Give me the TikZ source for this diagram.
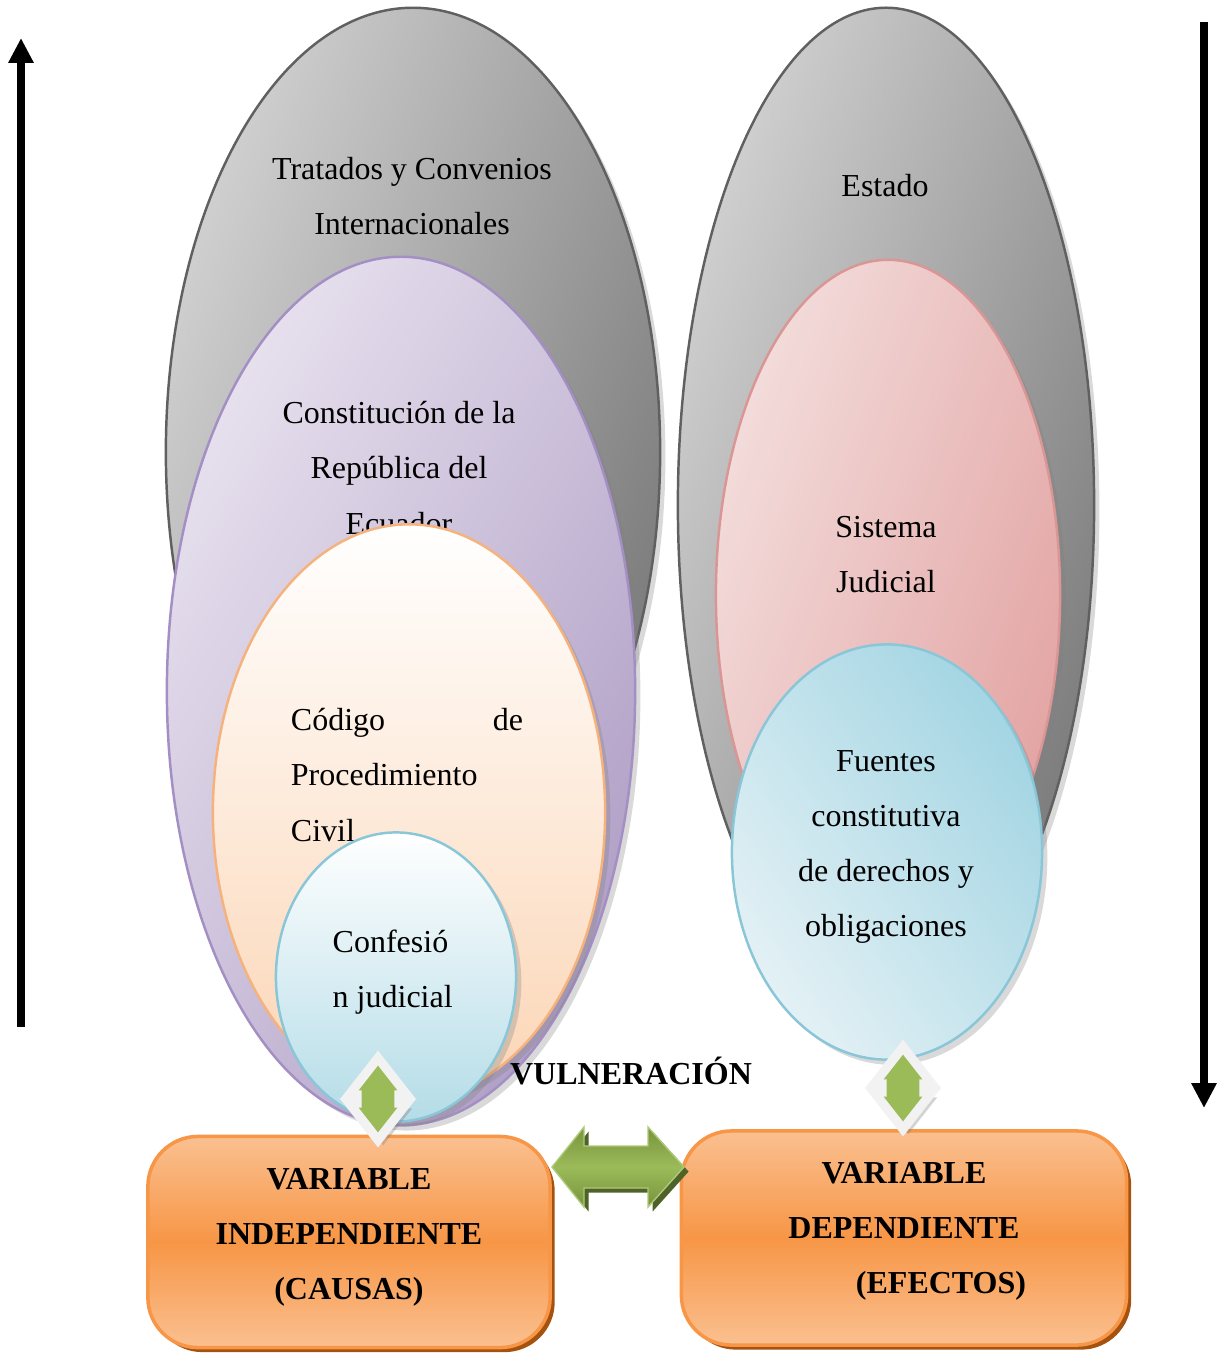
\documentclass[tikz,border=0pt]{standalone}
\usepackage{fontspec}
\setmainfont{Liberation Serif}
\usepackage{xcolor}
\usepackage{tikz}
\usetikzlibrary{shapes.geometric,arrows.meta,shadows}

\definecolor{grisclaro}{HTML}{D2D2D2}
\definecolor{grisoscuro}{HTML}{7A7A7A}
\definecolor{bordegris}{HTML}{606060}
\definecolor{lilaclaro}{HTML}{E7E1EE}
\definecolor{lilaoscuro}{HTML}{B09FC6}
\definecolor{bordelila}{HTML}{A38FC4}
\definecolor{melocoton}{HTML}{FBD5B5}
\definecolor{bordemelocoton}{HTML}{F6B27C}
\definecolor{celeste}{HTML}{B4DCE7}
\definecolor{celesteoscuro}{HTML}{A3D5E3}
\definecolor{celesteclaro}{HTML}{E4F1F5}
\definecolor{bordeceleste}{HTML}{88C6D8}
\definecolor{rosaclaro}{HTML}{F3DEDD}
\definecolor{rosaoscuro}{HTML}{E2A3A2}
\definecolor{borderosa}{HTML}{D99694}
\definecolor{naranja}{HTML}{F79646}
\definecolor{naranjaclaro}{HTML}{FAC090}
\definecolor{naranjaoscuro}{HTML}{A6520F}
\definecolor{verde}{HTML}{9BBB59}
\definecolor{verdeoscuro}{HTML}{77933C}
\definecolor{verdesombra}{HTML}{4F6228}
\definecolor{blancogris}{HTML}{F2F2F2}

\newcommand{\flechavert}[1]{%
\draw[shift={(#1)}, fill=verde, draw=blancogris, line width=2.6pt, miter limit=4,
  drop shadow={shadow xshift=1.5pt, shadow yshift=-1.5pt, opacity=0.35}]
  (0,-41) -- (29,-4) -- (21,-4) -- (21,4) -- (29,4) -- (0,41) -- (-29,4) -- (-21,4) -- (-21,-4) -- (-29,-4) -- cycle;}

\begin{document}
\begin{tikzpicture}[x=0.01cm, y=-0.01cm,
  texto/.style={font=\fontsize{9.1}{15.65}\selectfont, align=center, inner sep=0pt},
  negrita/.style={font=\fontsize{9.1}{15.65}\selectfont\bfseries, align=center, inner sep=0pt},
  elipse/.style={ellipse, inner sep=0pt, line width=0.7pt,
    drop shadow={shadow xshift=1.5pt, shadow yshift=-1.5pt, opacity=0.3}},
  gris/.style={elipse, draw=bordegris, left color=grisclaro, right color=grisoscuro, shading angle=70},
  caja/.style={rectangle, rounded corners=0.5cm, draw=naranja, line width=1pt,
    top color=naranjaclaro, bottom color=naranjaclaro, middle color=naranja,
    drop shadow={shadow xshift=1.3pt, shadow yshift=-1.3pt, opacity=1, fill=naranjaoscuro}}]
\useasboundingbox (0,0) rectangle (1222,1354);

% lado izquierdo
\node[gris, minimum width=4.94cm, minimum height=8.88cm] (tratados) at (413,452) {};
\node[texto] (ttratados) at (412,196) {Tratados y Convenios\\Internacionales};
\node[elipse, draw=bordelila, left color=lilaclaro, right color=lilaoscuro, shading angle=60,
  minimum width=4.68cm, minimum height=8.68cm] (constitucion) at (401,691) {};
\node[texto] (tconstitucion) at (399,468) {Constitución de la\\República del\\Ecuador};
\node[elipse, draw=bordemelocoton, top color=white, bottom color=melocoton,
  minimum width=3.92cm, minimum height=5.75cm] (codigo) at (409,812) {};
\node[texto, align=left, text width=2.32cm] (tcodigo) at (407,775) {Código\hfill de\\Procedimiento\\Civil};
\node[elipse, draw=bordeceleste, top color=white, bottom color=celeste,
  minimum width=2.40cm, minimum height=2.89cm] (confesion) at (396,977) {};
\node[texto, align=left, anchor=west] (tconfesion) at (332,972) {Confesió\\n judicial};

% lado derecho
\node[gris, minimum width=4.16cm, minimum height=9.94cm] (estado) at (886,505) {};
\node[texto] (testado) at (885,186) {Estado};
\node[elipse, draw=borderosa, left color=rosaclaro, right color=rosaoscuro, shading angle=70,
  minimum width=3.44cm, minimum height=6.70cm] (sistema) at (888,595) {};
\node[texto] (tsistema) at (886,555) {Sistema\\Judicial};
\node[elipse, draw=bordeceleste, left color=celesteclaro, right color=celesteoscuro, shading angle=125,
  minimum width=3.10cm, minimum height=4.15cm] (fuentes) at (887,852) {};
\node[texto] (tfuentes) at (886,847) {Fuentes\\constitutiva\\de derechos y\\obligaciones};

% variables
\node[caja, minimum width=4.02cm, minimum height=2.11cm] (izq) at (349,1242) {};
\node[negrita] (tizq) at (349,1237) {VARIABLE\\INDEPENDIENTE\\(CAUSAS)};
\node[caja, minimum width=4.45cm, minimum height=2.14cm] (der) at (904,1238) {};
\node[negrita] (tder) at (904,1231) {VARIABLE\\DEPENDIENTE\\\hspace*{0.74cm}(EFECTOS)};

% flechas
\coordinate (fi) at (378,1099);
\coordinate (fd) at (903,1088);
\flechavert{fi}
\flechavert{fd}
\coordinate (fh) at (618,1167);
\fill[verdesombra, shift={(fh)}, xshift=1.3pt, yshift=-1.3pt]
  (-66,0) -- (-34,-40) -- (-34,-21) -- (30,-21) -- (30,-40) -- (66,0) -- (30,40) -- (30,21) -- (-34,21) -- (-34,40) -- cycle;
\draw[shift={(fh)}, draw=verde!80!white, line width=0.4pt, top color=verdeoscuro, bottom color=verdeoscuro, middle color=verde]
  (-66,0) -- (-34,-40) -- (-34,-21) -- (30,-21) -- (30,-40) -- (66,0) -- (30,40) -- (30,21) -- (-34,21) -- (-34,40) -- cycle;
\node[negrita] (vulneracion) at (631,1071) {VULNERACIÓN};

\coordinate (a1) at (21,1027);
\coordinate (a2) at (21,38);
\coordinate (b1) at (1204,22);
\coordinate (b2) at (1204,1108);
\draw[line width=2pt, -{Triangle[width=6.8pt, length=7.1pt]}] (a1) -- (a2);
\draw[line width=2pt, -{Triangle[width=6.8pt, length=7.1pt]}] (b1) -- (b2);

\end{tikzpicture}
\end{document}
